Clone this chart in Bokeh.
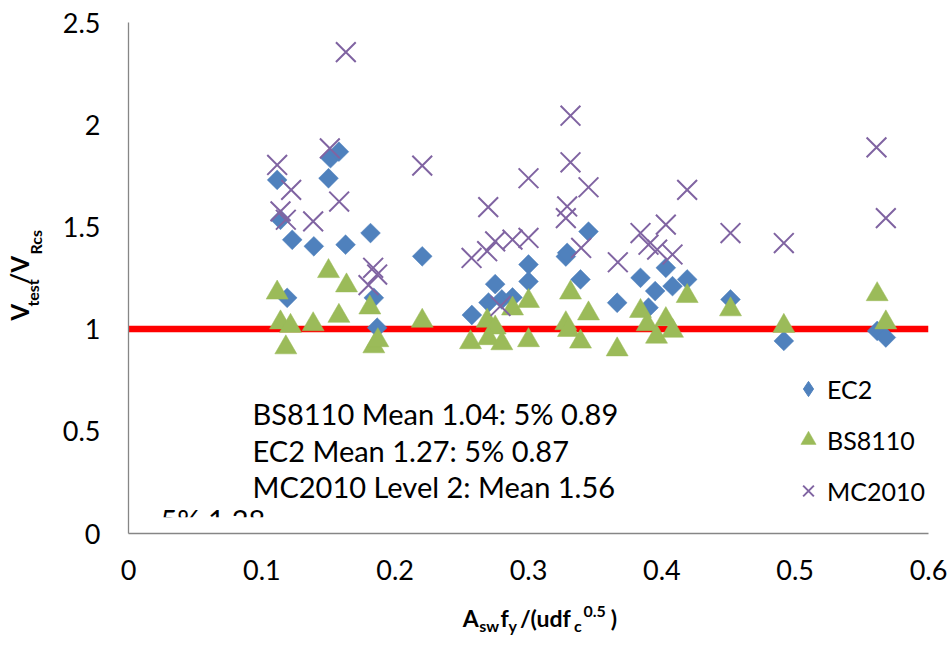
from bokeh.plotting import figure
from bokeh.models import (Legend, LegendItem, FixedTicker, Range1d)
from bokeh.layouts import column, row
from bokeh.core.properties import value
from bokeh.embed import file_html
from bokeh.resources import INLINE
import numpy as np

# ---------------- data ----------------
ec2_x = [0.1115, 0.114, 0.119, 0.1228, 0.139, 0.150, 0.1515, 0.1578, 0.1628,
         0.1815, 0.184, 0.1865, 0.2203, 0.2575, 0.270, 0.275, 0.280, 0.288,
         0.300, 0.300, 0.328, 0.329, 0.339, 0.345, 0.3665, 0.384, 0.390,
         0.395, 0.403, 0.408, 0.419, 0.4515, 0.4915, 0.5615, 0.568]
ec2_y = [1.73, 1.535, 1.153, 1.437, 1.405, 1.738, 1.836, 1.868, 1.413,
         1.47, 1.153, 1.007, 1.356, 1.069, 1.13, 1.22, 1.145, 1.155,
         1.316, 1.233, 1.355, 1.373, 1.243, 1.477, 1.129, 1.251, 1.105,
         1.186, 1.30, 1.21, 1.243, 1.145, 0.942, 0.991, 0.959]

bs_x = [0.1115, 0.114, 0.1215, 0.118, 0.1385, 0.150, 0.1635, 0.1578, 0.181,
        0.184, 0.187, 0.2203, 0.2565, 0.269, 0.275, 0.270, 0.280, 0.288,
        0.300, 0.300, 0.3315, 0.328, 0.330, 0.339, 0.345, 0.3665, 0.384,
        0.389, 0.396, 0.403, 0.408, 0.419, 0.4515, 0.4915, 0.5615, 0.568]
bs_y = [1.178, 1.032, 1.015, 0.910, 1.023, 1.283, 1.213, 1.064, 1.105,
        0.915, 0.945, 1.04, 0.935, 1.04, 1.007, 0.955, 0.93, 1.10,
        1.137, 0.945, 1.178, 1.028, 0.995, 0.938, 1.076, 0.90, 1.088,
        1.023, 0.962, 1.048, 0.991, 1.161, 1.096, 1.015, 1.17, 1.032]

mc_x = [0.1115, 0.114, 0.118, 0.122, 0.1385, 0.151, 0.158, 0.163, 0.180,
        0.1835, 0.1865, 0.2203, 0.2573, 0.269, 0.2698, 0.275, 0.279, 0.288,
        0.300, 0.300, 0.328, 0.329, 0.3315, 0.3315, 0.3395, 0.345, 0.367,
        0.384, 0.390, 0.3965, 0.403, 0.408, 0.419, 0.4515, 0.4915, 0.561,
        0.568]
mc_y = [1.803, 1.576, 1.535, 1.681, 1.527, 1.884, 1.624, 2.355, 1.215,
        1.30, 1.267, 1.80, 1.348, 1.381, 1.597, 1.429, 1.113, 1.438,
        1.446, 1.738, 1.543, 1.60, 2.044, 1.816, 1.397, 1.694, 1.327,
        1.47, 1.413, 1.389, 1.511, 1.365, 1.681, 1.47, 1.421, 1.889,
        1.543]

ref_x = [0.0, 0.6]
ref_y = [1.0, 1.0]

x_ticks = [0, 0.1, 0.2, 0.3, 0.4, 0.5, 0.6]
x_tick_labels = ["0", "0.1", "0.2", "0.3", "0.4", "0.5", "0.6"]
y_ticks = [0, 0.5, 1.0, 1.5, 2.0, 2.5]
y_tick_labels = ["0", "0.5", "1", "1.5", "2", "2.5"]

series_names = ["EC2", "BS8110", "MC2010"]
notes = ["BS8110 Mean 1.04: 5% 0.89",
         "EC2 Mean 1.27: 5% 0.87",
         "MC2010 Level 2: Mean 1.56"]
note_clipped = "5% 1.28"

# axis titles split into pieces: (text, role) n = normal, b = subscript, p = superscript
x_title_parts = [("A", "n"), ("sw", "b"), ("f", "n"), ("y", "b"),
                 ("/(udf", "n"), ("c", "b"), ("0.5", "p"), (")", "n")]
y_title_parts = [("V", "n"), ("test", "b"), ("/V", "n"), ("Rcs", "b")]

# ---------------- layout constants (page pixels) ----------------
FONT = "Lato"
W, H = 948, 640
YT_W = 50            # width of the y-title strip
P_H = 600            # height of main figure
FL, FB, FT, FR = 128, 533, 22, 928   # frame edges in page pixels
SHIFT = 0.43         # empirical baseline correction (em)

# ---------------- main figure ----------------
p = figure(width=W - YT_W, height=P_H, x_range=Range1d(0, 0.6),
           y_range=Range1d(0, 2.5), output_backend="svg",
           toolbar_location=None, title=None,
           min_border_left=FL - YT_W, min_border_right=W - FR,
           min_border_top=FT, min_border_bottom=P_H - FB)
p.grid.visible = False
p.outline_line_color = None
p.background_fill_color = "white"
p.border_fill_color = "white"

for ax in (p.xaxis, p.yaxis):
    ax.axis_line_color = "#868686"
    ax.axis_line_width = 1.3
    ax.major_tick_line_color = None
    ax.minor_tick_line_color = None
    ax.major_label_text_font = FONT
    ax.major_label_text_font_size = "27px"
    ax.major_label_text_color = "#000000"

p.xaxis.ticker = FixedTicker(ticks=x_ticks)
p.xaxis.major_label_overrides = {t: l for t, l in zip(x_ticks, x_tick_labels)}
p.xaxis.major_label_standoff = 20
p.yaxis.ticker = FixedTicker(ticks=y_ticks)
p.yaxis.major_label_standoff = 22
p.yaxis.major_label_overrides = {t: l for t, l in zip(y_ticks, y_tick_labels)}

def dx(px):
    return (px - FL) * 0.6 / (FR - FL)

def dy(py):
    return (FB - py) * 2.5 / (FB - FT)

# reference line
p.line(ref_x, ref_y, line_color="#FF0000", line_width=6.5)

# series
r_ec2 = p.scatter(ec2_x, ec2_y, marker="square", size=14, angle=np.pi / 4,
                  fill_color="#4F81BD", line_color="#4F81BD", line_width=0.5)
r_bs = p.scatter(bs_x, bs_y, marker="triangle", size=22,
                 fill_color="#9BBB59", line_color="#9BBB59", line_width=0.5)
r_mc = p.scatter(mc_x, mc_y, marker="x", size=28,
                 line_color="#8064A2", line_width=2)
# legend key for EC2 (diamond shape; holds no data)
r_ec2_key = p.scatter([np.nan], [np.nan], marker="diamond", size=14,
                      fill_color="#4F81BD", line_color="#4F81BD")

# annotation text box
NOTE_FS = 29
note_base = [425, 462, 498]
sh = SHIFT * NOTE_FS
p.text(x=[dx(252)] * 3, y=[dy(b - sh) for b in note_base], text=notes,
       text_font=value(FONT), text_font_size=f"{NOTE_FS}px", text_color="#000000",
       text_baseline="alphabetic", text_align="left")
p.text(x=[dx(160)], y=[dy(531 - sh)], text=[note_clipped],
       text_font=value(FONT), text_font_size=f"{NOTE_FS}px", text_color="#000000",
       text_baseline="alphabetic", text_align="left")
p.quad(left=[dx(140)], right=[dx(300)], bottom=[dy(FB)], top=[dy(516.7)],
       fill_color="white", line_color=None)

# legend
legend = Legend(items=[LegendItem(label=series_names[0], renderers=[r_ec2_key]),
                       LegendItem(label=series_names[1], renderers=[r_bs]),
                       LegendItem(label=series_names[2], renderers=[r_mc])],
                location=(661, 20), orientation="vertical",
                glyph_width=38, glyph_height=45, label_height=45,
                spacing=6, padding=0, margin=0, label_standoff=0,
                border_line_color=None, background_fill_alpha=0,
                label_text_font=FONT, label_text_font_size="25px",
                label_text_color="#000000")
p.add_layout(legend)

# ---------------- y-title strip (data units == page pixels) ----------------
yfig = figure(width=YT_W, height=P_H, x_range=Range1d(0, YT_W),
              y_range=Range1d(0, P_H), x_axis_type=None, y_axis_type=None,
              output_backend="svg", toolbar_location=None, title=None,
              min_border=0, min_border_left=0, min_border_right=0,
              min_border_top=0, min_border_bottom=0)
yfig.outline_line_color = None
yfig.grid.visible = False

# page positions of each piece's centre: (x, y)
y_ctr = [(18.5, 340), (31.5, 317.5), (18.5, 290.5), (35, 258)]
for (txt, role), (cx, cy) in zip(y_title_parts, y_ctr):
    fs = 24 if role == "n" else 16
    yfig.text(x=[cx], y=[P_H - cy], text=[txt],
              text_font=value(FONT), text_font_size=f"{fs}px",
              text_font_style="bold", text_color="#000000",
              text_baseline="middle", text_align="center", angle=np.pi / 2)

# ---------------- x-title strip ----------------
XT_H = H - P_H
xfig = figure(width=W, height=XT_H, x_range=Range1d(0, W),
              y_range=Range1d(0, XT_H), x_axis_type=None, y_axis_type=None,
              output_backend="svg", toolbar_location=None, title=None,
              min_border=0, min_border_left=0, min_border_right=0,
              min_border_top=0, min_border_bottom=0)
xfig.outline_line_color = None
xfig.grid.visible = False

# (centre x, baseline y) in page pixels
x_pos = [(470.3, 627), (488.7, 632), (504, 627), (512.3, 632),
         (544.8, 627), (577.3, 632), (594.2, 618), (613.3, 627)]
for (txt, role), (cx, by) in zip(x_title_parts, x_pos):
    fs = 23 if role == "n" else 16
    xfig.text(x=[cx], y=[H - (by - SHIFT * fs)], text=[txt],
              text_font=value(FONT), text_font_size=f"{fs}px",
              text_font_style="bold", text_color="#000000",
              text_baseline="alphabetic", text_align="center")

layout = column(row(yfig, p), xfig)
open("out.html", "w").write(file_html(layout, INLINE))
